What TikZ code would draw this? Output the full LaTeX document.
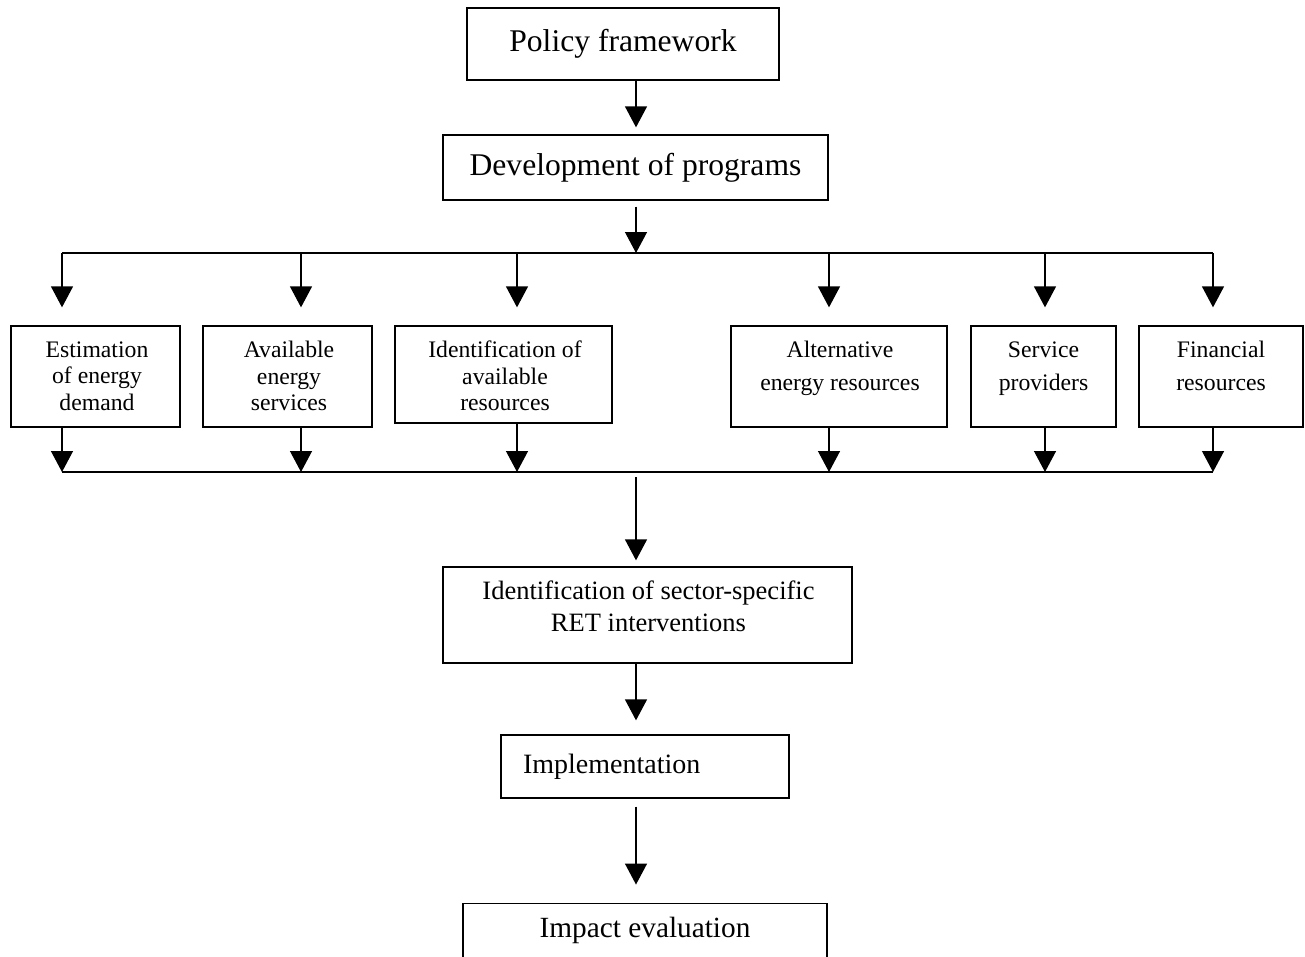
\documentclass[tikz,border=0pt]{standalone}
\usepackage{fontspec}
\setmainfont{Liberation Serif}
\usetikzlibrary{arrows.meta}
\begin{document}
\begin{tikzpicture}[x=1pt,y=-1pt,
  box/.style={draw, line width=1.3pt, inner sep=0pt, anchor=center},
  bigtxt/.style={font=\fontsize{31.6}{36}\selectfont},
  smallthree/.style={font=\fontsize{23.7}{26.5}\selectfont, align=center, inner sep=0pt, anchor=center},
  smalltwo/.style={font=\fontsize{23.7}{33}\selectfont, align=center, inner sep=0pt, anchor=center},
  sectxt/.style={font=\fontsize{26.5}{32}\selectfont, align=center, inner sep=0pt, anchor=center},
  arr/.style={line width=1.3pt, -{Triangle[width=22pt,length=21pt]}},
  ln/.style={line width=1.3pt}]
\useasboundingbox (0,0) rectangle (1305,956);

% top boxes
\node[box, bigtxt, minimum width=312pt, minimum height=72pt] (policy) at (623,44) {Policy framework};
\node[box, bigtxt, minimum width=385pt, minimum height=65pt] (dev) at (635.5,167.5) {Development of programs};

% row of boxes
\node[box, minimum width=169pt, minimum height=101pt] (b1) at (95.5,376.5) {};
\node[box, minimum width=169pt, minimum height=101pt] (b2) at (287.5,376.5) {};
\node[box, minimum width=217pt, minimum height=97pt] (b3) at (503.5,374.5) {};
\node[box, minimum width=216pt, minimum height=101pt] (b4) at (839,376.5) {};
\node[box, minimum width=145pt, minimum height=101pt] (b5) at (1043.5,376.5) {};
\node[box, minimum width=164pt, minimum height=101pt] (b6) at (1221,376.5) {};

\node[smallthree] (t1) at (97,375.9) {Estimation\\of energy\\demand};
\node[smallthree] (t2) at (289,375.9) {Available\\energy\\services};
\node[smallthree] (t3) at (505,375.9) {Identification of\\available\\resources};
\node[smalltwo] (t4) at (840,368.5) {Alternative\\energy resources};
\node[smalltwo] (t5) at (1043.5,368.5) {Service\\providers};
\node[smalltwo] (t6) at (1221,366) {Financial\\resources};

% lower boxes
\node[box, minimum width=409pt, minimum height=96pt] (sector) at (647.5,615) {};
\node[sectxt] (tsec) at (648.5,606) {Identification of sector-specific\\RET interventions};
\node[box, font=\fontsize{28}{32}\selectfont, minimum height=63pt, inner xsep=22pt, text width=244pt, align=left] (impl) at (645,766.5) {Implementation};
\node[box, font=\fontsize{29.3}{34}\selectfont, minimum width=364pt, minimum height=55pt] (impact) at (645,930.7) {Impact evaluation};

% bus coordinates
\coordinate (tb) at (636,253);
\coordinate (bb) at (636,472);
\coordinate (a1) at (62,253);
\coordinate (a2) at (301,253);
\coordinate (a3) at (517,253);
\coordinate (a4) at (829,253);
\coordinate (a5) at (1045,253);
\coordinate (a6) at (1213,253);

% connectors
\draw[arr] (policy.south -| tb) -- ([yshift=7pt]dev.north -| tb);
\draw[arr] ([yshift=-6pt]dev.south -| tb) -- (tb);
\draw[ln] (a1) -- (a6);
\foreach \i in {1,...,6} {
  \draw[arr] (a\i) -- ([yshift=18pt]b\i.north -| a\i);
  \draw[arr] (b\i.south -| a\i) -- (a\i |- bb);
}
\draw[ln] (a1 |- bb) -- (a6 |- bb);
\draw[arr] ([yshift=-5pt]bb) -- ([yshift=6pt]sector.north -| bb);
\draw[arr] (sector.south -| bb) -- ([yshift=14pt]impl.north -| bb);
\draw[arr] ([yshift=-8pt]impl.south -| bb) -- ([yshift=18pt]impact.north -| bb);
\end{tikzpicture}
\end{document}
